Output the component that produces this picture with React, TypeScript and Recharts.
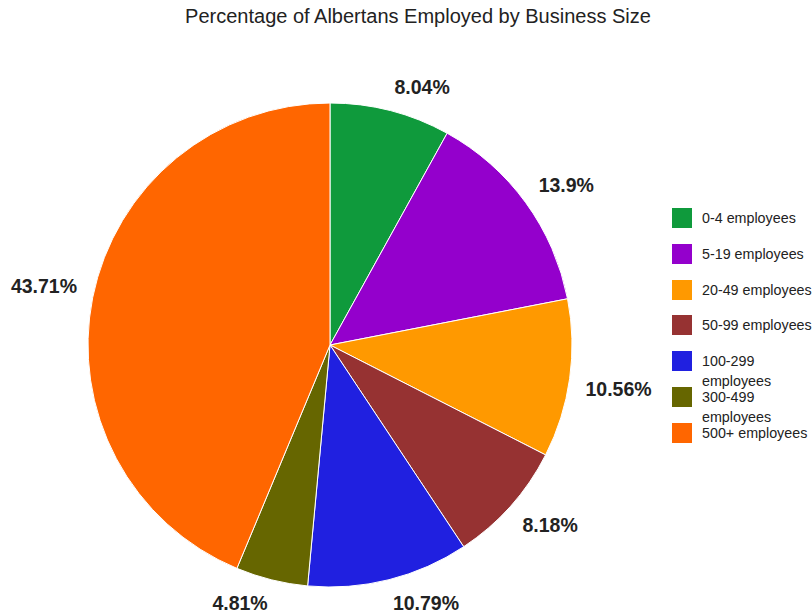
import React from 'react';
import { PieChart, Pie, Cell, Legend } from 'recharts';

const categories = [
  '0-4 employees',
  '5-19 employees',
  '20-49 employees',
  '50-99 employees',
  '100-299 employees',
  '300-499 employees',
  '500+ employees',
];
const shares = [8.04, 13.9, 10.56, 8.18, 10.79, 4.81, 43.71];
const colors = ['#0f9a3c', '#9400cc', '#ff9900', '#963232', '#2020e0', '#666600', '#ff6600'];

const data = categories.map((name, i) => ({ name, value: shares[i] }));

const RAD = Math.PI / 180;
const LABEL_SIZE = 19.5;
const FONT = "'Liberation Sans', Arial, sans-serif";

// rough width of a bold label like "43.71%"
const textWidth = (s: string) => {
  let em = 0;
  for (const ch of s) {
    if (ch === '.') em += 0.278;
    else if (ch === '%') em += 0.889;
    else em += 0.556;
  }
  return em * LABEL_SIZE;
};

// label box sits just outside the pie, its nearest corner on the mid-angle ray
const renderLabel = (props: any) => {
  const { cx, cy, midAngle, outerRadius, value } = props;
  const text = `${value}%`;
  const cos = Math.cos(-midAngle * RAD);
  const sin = Math.sin(-midAngle * RAD);
  const r = outerRadius + 16;
  const px = cx + r * cos;
  const py = cy + r * sin;
  const w = textWidth(text);
  const x = px + (w / 2) * Math.sign(cos);
  const y = py + 8 * Math.sign(sin);
  return (
    <text
      x={x}
      y={y}
      fill="#222"
      fontSize={LABEL_SIZE}
      fontWeight="bold"
      textAnchor="middle"
      dominantBaseline="central"
      fontFamily={FONT}
    >
      {text}
    </text>
  );
};

const renderLegend = () => (
  <div style={{ fontFamily: FONT, fontSize: 14.3, color: '#222' }}>
    {categories.map((name, i) => (
      <div key={name} style={{ display: 'flex', alignItems: 'flex-start', height: 35.8 }}>
        <div style={{ width: 20, height: 20, background: colors[i], flexShrink: 0 }} />
        <div style={{ marginLeft: 10, lineHeight: '20px', width: 112 }}>{name}</div>
      </div>
    ))}
  </div>
);

export default function App() {
  return (
    <div style={{ width: 812, height: 613, background: '#fff', position: 'relative', overflow: 'hidden' }}>
      <style>{'body{margin:0}'}</style>
      <div
        style={{
          position: 'absolute',
          top: 5,
          left: 12,
          width: 812,
          textAlign: 'center',
          fontFamily: FONT,
          fontSize: 20,
          color: '#222',
        }}
      >
        Percentage of Albertans Employed by Business Size
      </div>
      <PieChart width={812} height={613} margin={{ top: 0, right: 0, bottom: 0, left: 0 }}>
        <Pie
          data={data}
          dataKey="value"
          nameKey="name"
          cx={330}
          cy={345}
          outerRadius={242}
          startAngle={90}
          endAngle={-270}
          stroke="#fff"
          strokeWidth={1}
          label={renderLabel}
          labelLine={false}
          isAnimationActive={false}
        >
          {data.map((d, i) => (
            <Cell key={d.name} fill={colors[i]} />
          ))}
        </Pie>
        <Legend
          content={renderLegend}
          layout="vertical"
          wrapperStyle={{ position: 'absolute', left: 672, top: 208, width: 140 }}
        />
      </PieChart>
    </div>
  );
}
